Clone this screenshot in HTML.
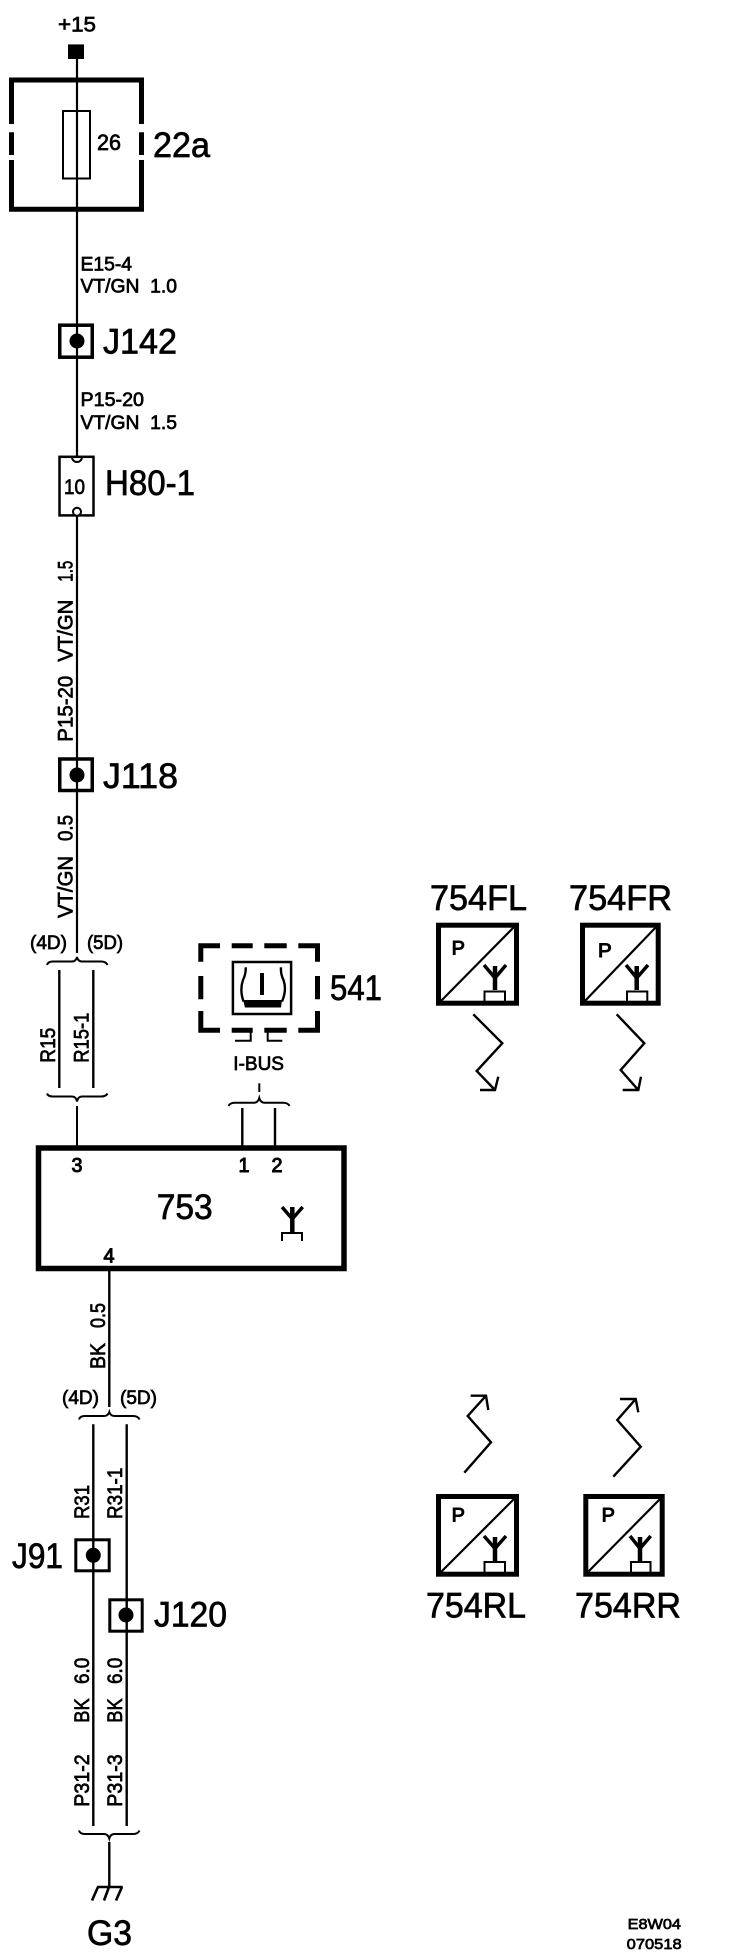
<!DOCTYPE html>
<html>
<head>
<meta charset="utf-8">
<style>
html,body{margin:0;padding:0;background:#fff}
svg{display:block}
text{font-family:"Liberation Sans",sans-serif;fill:#000}
.l{font-size:35px;stroke:#000;stroke-width:.7}
.s{font-size:19px;stroke:#000;stroke-width:.7}
.r{font-size:21px;stroke:#000;stroke-width:.7}
.f{fill:none;stroke:#000}
</style>
</head>
<body>
<svg width="752" height="1960" viewBox="0 0 752 1960" xmlns="http://www.w3.org/2000/svg">
<rect width="752" height="1960" fill="#fff"/>

<!-- main upper wire -->
<path class="f" stroke-width="2.2" d="M77 50V953"/>
<rect x="68" y="44.4" width="16" height="14.6"/>
<text x="58" y="31.7" class="r" textLength="38" lengthAdjust="spacingAndGlyphs">+15</text>

<!-- 22a -->
<path class="f" stroke-width="5" d="M11.5 124V80H141.5V124M11.5 132.3V155M141.5 132.3V155M11.5 160V209.3H141.5V160"/>
<rect x="63" y="111" width="27" height="67.5" class="f" stroke-width="2"/>
<text x="97" y="149.8" class="s" style="font-size:22px" textLength="24" lengthAdjust="spacingAndGlyphs">26</text>
<text x="153" y="157" class="l" textLength="57" lengthAdjust="spacingAndGlyphs">22a</text>

<text x="80.5" y="270.7" class="s" textLength="51.5" lengthAdjust="spacingAndGlyphs">E15-4</text>
<text x="80.5" y="292.4" class="s" textLength="96.5" lengthAdjust="spacingAndGlyphs" xml:space="preserve">VT/GN  1.0</text>

<!-- J142 -->
<rect x="59.75" y="325.2" width="32.5" height="32" class="f" stroke-width="3.5"/>
<circle cx="77" cy="341" r="7.5"/>
<text x="103" y="353.4" class="l" textLength="74" lengthAdjust="spacingAndGlyphs">J142</text>

<text x="80.5" y="406" class="s" textLength="63.5" lengthAdjust="spacingAndGlyphs">P15-20</text>
<text x="80.5" y="428.8" class="s" textLength="96.5" lengthAdjust="spacingAndGlyphs" xml:space="preserve">VT/GN  1.5</text>

<!-- H80-1 -->
<rect x="59.5" y="456.8" width="34" height="58.6" fill="#fff" stroke="#000" stroke-width="2.5"/>
<path class="f" stroke-width="2" d="M72 457A5 5 0 0 0 82 457"/>
<circle cx="77" cy="511.8" r="4" fill="#fff" stroke="#000" stroke-width="2"/>
<text x="64" y="494" class="s" style="font-size:21px" textLength="21" lengthAdjust="spacingAndGlyphs">10</text>
<text x="105" y="495" class="l" textLength="90" lengthAdjust="spacingAndGlyphs">H80-1</text>

<!-- rotated labels upper -->
<text transform="translate(72.3,741.7) rotate(-90)" class="r" textLength="66" lengthAdjust="spacingAndGlyphs">P15-20</text>
<text transform="translate(72.3,661.7) rotate(-90)" class="r" textLength="62" lengthAdjust="spacingAndGlyphs">VT/GN</text>
<text transform="translate(72.3,581.7) rotate(-90)" class="r" textLength="21" lengthAdjust="spacingAndGlyphs">1.5</text>

<!-- J118 -->
<rect x="59.75" y="759" width="32.5" height="31.5" class="f" stroke-width="3.5"/>
<circle cx="77" cy="775" r="7.5"/>
<text x="103" y="788" class="l" textLength="75" lengthAdjust="spacingAndGlyphs">J118</text>

<text transform="translate(72.3,918) rotate(-90)" class="r" textLength="62" lengthAdjust="spacingAndGlyphs">VT/GN</text>
<text transform="translate(72.3,841) rotate(-90)" class="r" textLength="26" lengthAdjust="spacingAndGlyphs">0.5</text>

<text x="30" y="949" class="s" textLength="37" lengthAdjust="spacingAndGlyphs">(4D)</text>
<text x="87" y="949" class="s" textLength="36" lengthAdjust="spacingAndGlyphs">(5D)</text>

<!-- upper brace 1 -->
<path class="f" stroke-width="2" d="M47 965Q48 961.5 53 961.5H72Q76 961.5 77 957Q78 961.5 82 961.5H101Q106 961.5 107.5 965"/>
<path class="f" stroke-width="2.4" d="M59.3 970V1088M93.3 970V1088"/>
<text transform="translate(55,1062.7) rotate(-90)" class="r" textLength="35" lengthAdjust="spacingAndGlyphs">R15</text>
<text transform="translate(88.3,1062.7) rotate(-90)" class="r" textLength="50" lengthAdjust="spacingAndGlyphs">R15-1</text>

<!-- lower brace 1 -->
<path class="f" stroke-width="2" d="M47 1093.5Q48 1096.5 53 1096.5H72Q76 1096.5 77 1101.5Q78 1096.5 82 1096.5H101Q106 1096.5 107.5 1093.5"/>
<path class="f" stroke-width="2" d="M77 1106V1146"/>

<!-- 541 -->
<path class="f" stroke-width="5" d="M200.8 961.7V945.8H220M231.7 945.8H252.7M264.3 945.8H286.7M298.3 945.8H317.5V961.7M200.8 976V999.3M317.5 976V999.3M200.8 1011V1030.2H220M231.7 1030.2H252.7M264.3 1030.2H286.7M298.3 1030.2H317.5V1011"/>
<rect x="232.9" y="962" width="58.2" height="52" class="f" stroke-width="2.5"/>
<path class="f" stroke-width="2.4" d="M245.7 967.3Q246 974 243 980Q239.5 990 243.5 1001.5M281 967.3Q280.5 974 283.5 980Q287 990 282 1001.5"/>
<path d="M243 1000H282L281 1007.5H245Z"/>
<rect x="260" y="973" width="4" height="22"/>
<path class="f" stroke-width="2" d="M235 1040.7H250.7V1032M282.3 1040.7H267.7V1032"/>
<text x="330" y="1000" class="l" textLength="52" lengthAdjust="spacingAndGlyphs">541</text>
<text x="233.3" y="1070" class="s" textLength="50.7" lengthAdjust="spacingAndGlyphs">I-BUS</text>
<path class="f" stroke-width="2" d="M259.3 1083.3V1092"/>
<path class="f" stroke-width="2" d="M228.5 1106Q230 1102.7 235 1102.7H254Q258 1102.7 259.3 1098Q260.5 1102.7 264.5 1102.7H283Q288 1102.7 289.5 1106"/>
<path class="f" stroke-width="2.4" d="M242.3 1108V1146M275 1108V1146"/>

<!-- 753 -->
<rect x="38.5" y="1148" width="305.5" height="120.5" class="f" stroke-width="5.5"/>
<text x="71.5" y="1172" class="s" style="font-size:20px;stroke-width:1" textLength="11" lengthAdjust="spacingAndGlyphs">3</text>
<text x="238.5" y="1172" class="s" style="font-size:20px;stroke-width:1" textLength="11" lengthAdjust="spacingAndGlyphs">1</text>
<text x="271.5" y="1172" class="s" style="font-size:20px;stroke-width:1" textLength="11" lengthAdjust="spacingAndGlyphs">2</text>
<text x="103.5" y="1262.7" class="s" style="font-size:20px;stroke-width:1" textLength="11" lengthAdjust="spacingAndGlyphs">4</text>
<text x="156.7" y="1219" class="l" textLength="56" lengthAdjust="spacingAndGlyphs">753</text>
<path class="f" stroke-width="3.5" d="M282 1207L292.3 1219L302.7 1207"/>
<path class="f" stroke-width="4.5" d="M292.3 1207V1233"/>
<path class="f" stroke-width="2" d="M282 1241V1233H302V1241"/>

<!-- lower wires -->
<path class="f" stroke-width="2.4" d="M109.3 1270V1407"/>
<text transform="translate(105,1369) rotate(-90)" class="r" textLength="26" lengthAdjust="spacingAndGlyphs">BK</text>
<text transform="translate(105,1328) rotate(-90)" class="r" textLength="25" lengthAdjust="spacingAndGlyphs">0.5</text>
<text x="62" y="1404" class="s" textLength="37" lengthAdjust="spacingAndGlyphs">(4D)</text>
<text x="120" y="1404" class="s" textLength="37" lengthAdjust="spacingAndGlyphs">(5D)</text>
<path class="f" stroke-width="2" d="M79 1419.5Q80 1416 85 1416H104Q108 1416 109.3 1412Q110.5 1416 114.5 1416H133Q138 1416 139.5 1419.5"/>
<path class="f" stroke-width="2.4" d="M93.3 1424.3V1826M126.7 1424.3V1826"/>
<text transform="translate(89,1519) rotate(-90)" class="r" textLength="34" lengthAdjust="spacingAndGlyphs">R31</text>
<text transform="translate(122,1519) rotate(-90)" class="r" textLength="51.3" lengthAdjust="spacingAndGlyphs">R31-1</text>

<!-- J91 / J120 -->
<rect x="75.8" y="1539.8" width="33.4" height="31" class="f" stroke-width="3"/>
<circle cx="93.3" cy="1555.3" r="7.5"/>
<text x="12" y="1568" class="l" textLength="51" lengthAdjust="spacingAndGlyphs">J91</text>
<rect x="109.8" y="1599.8" width="32.4" height="31.4" class="f" stroke-width="3"/>
<circle cx="126" cy="1615" r="7.5"/>
<text x="154" y="1626.7" class="l" textLength="73" lengthAdjust="spacingAndGlyphs">J120</text>

<text transform="translate(89,1684) rotate(-90)" class="r" textLength="26.3" lengthAdjust="spacingAndGlyphs">6.0</text>
<text transform="translate(89,1722.7) rotate(-90)" class="r" textLength="24.4" lengthAdjust="spacingAndGlyphs">BK</text>
<text transform="translate(89,1806.7) rotate(-90)" class="r" textLength="52.4" lengthAdjust="spacingAndGlyphs">P31-2</text>
<text transform="translate(122,1684) rotate(-90)" class="r" textLength="26.3" lengthAdjust="spacingAndGlyphs">6.0</text>
<text transform="translate(122,1722.7) rotate(-90)" class="r" textLength="24.4" lengthAdjust="spacingAndGlyphs">BK</text>
<text transform="translate(122,1806.7) rotate(-90)" class="r" textLength="52.4" lengthAdjust="spacingAndGlyphs">P31-3</text>

<path class="f" stroke-width="2" d="M79 1830.5Q80 1834 85 1834H104Q108 1834 109.3 1838.5Q110.5 1834 114.5 1834H133Q138 1834 139.5 1830.5"/>
<path class="f" stroke-width="2.4" d="M109.3 1842V1887"/>
<path class="f" stroke-width="2.6" d="M97 1887H122.7M98 1887L92 1900.5M109 1887L104 1900.5M122 1887L116 1900.5"/>
<text x="87" y="1945" class="l" textLength="45" lengthAdjust="spacingAndGlyphs">G3</text>

<!-- 754FL -->
<text x="430" y="910" class="l" textLength="97" lengthAdjust="spacingAndGlyphs">754FL</text>
<rect x="438.5" y="925.2" width="78" height="78" class="f" stroke-width="5"/>
<path class="f" stroke-width="2.2" d="M439 1003L516 925"/>
<text x="451.7" y="954.3" class="s" style="stroke-width:1" textLength="13.3" lengthAdjust="spacingAndGlyphs">P</text>
<path class="f" stroke-width="3.5" d="M484 965L495 978L506 965"/>
<path class="f" stroke-width="4.5" d="M495 966V990"/>
<path class="f" stroke-width="2" d="M484.5 1003V991.5H505V1003"/>
<path class="f" stroke-width="2.4" d="M473.3 1014.3L502.3 1043.3L476.7 1071L495 1090M480 1090H495L498.3 1076.7"/>

<!-- 754FR -->
<text x="569" y="910" class="l" textLength="103" lengthAdjust="spacingAndGlyphs">754FR</text>
<rect x="582.5" y="925.2" width="75.7" height="78" class="f" stroke-width="5"/>
<path class="f" stroke-width="2.2" d="M583 1003L658 925"/>
<text x="598" y="957" class="s" style="stroke-width:1" textLength="13.7" lengthAdjust="spacingAndGlyphs">P</text>
<path class="f" stroke-width="3.5" d="M626 965L636.7 978L648 965"/>
<path class="f" stroke-width="4.5" d="M636.7 966V990"/>
<path class="f" stroke-width="2" d="M627 1003V991.5H647.3V1003"/>
<path class="f" stroke-width="2.4" d="M616.7 1014.3L644.3 1043.3L620.7 1070L638.3 1090M622.7 1090H638.3L641 1076.7"/>

<!-- 754RL -->
<path class="f" stroke-width="2.4" d="M464.3 1472.7L491 1442.3L467.7 1416L486 1395.7M470.7 1395.7H486L488.3 1410"/>
<rect x="438.5" y="1496.5" width="78" height="77.7" class="f" stroke-width="5"/>
<path class="f" stroke-width="2.2" d="M439 1574L516 1497"/>
<text x="451.7" y="1521.7" class="s" style="stroke-width:1" textLength="13.3" lengthAdjust="spacingAndGlyphs">P</text>
<path class="f" stroke-width="3.5" d="M484 1536L495 1548.5L506 1536"/>
<path class="f" stroke-width="4.5" d="M495 1537V1561"/>
<path class="f" stroke-width="2" d="M484.5 1574V1562H505V1574"/>
<text x="426" y="1617.3" class="l" textLength="100" lengthAdjust="spacingAndGlyphs">754RL</text>

<!-- 754RR -->
<path class="f" stroke-width="2.4" d="M613.3 1476.7L640.7 1446.7L617.3 1420L635.7 1399M620 1399H635.7L638.3 1412.3"/>
<rect x="585.8" y="1496.5" width="76.4" height="77.7" class="f" stroke-width="5"/>
<path class="f" stroke-width="2.2" d="M586 1574L662 1497"/>
<text x="601.7" y="1521.7" class="s" style="stroke-width:1" textLength="13.3" lengthAdjust="spacingAndGlyphs">P</text>
<path class="f" stroke-width="3.5" d="M630 1536L640 1548.5L650.7 1536"/>
<path class="f" stroke-width="4.5" d="M640 1537V1561"/>
<path class="f" stroke-width="2" d="M631 1574V1562H650.5V1574"/>
<text x="575" y="1617.3" class="l" textLength="106" lengthAdjust="spacingAndGlyphs">754RR</text>

<!-- stamp -->
<text x="627.7" y="1929" class="s" style="font-size:15px" textLength="53.3" lengthAdjust="spacingAndGlyphs">E8W04</text>
<text x="626.7" y="1949" class="s" style="font-size:15px" textLength="55" lengthAdjust="spacingAndGlyphs">070518</text>
</svg>
</body>
</html>
